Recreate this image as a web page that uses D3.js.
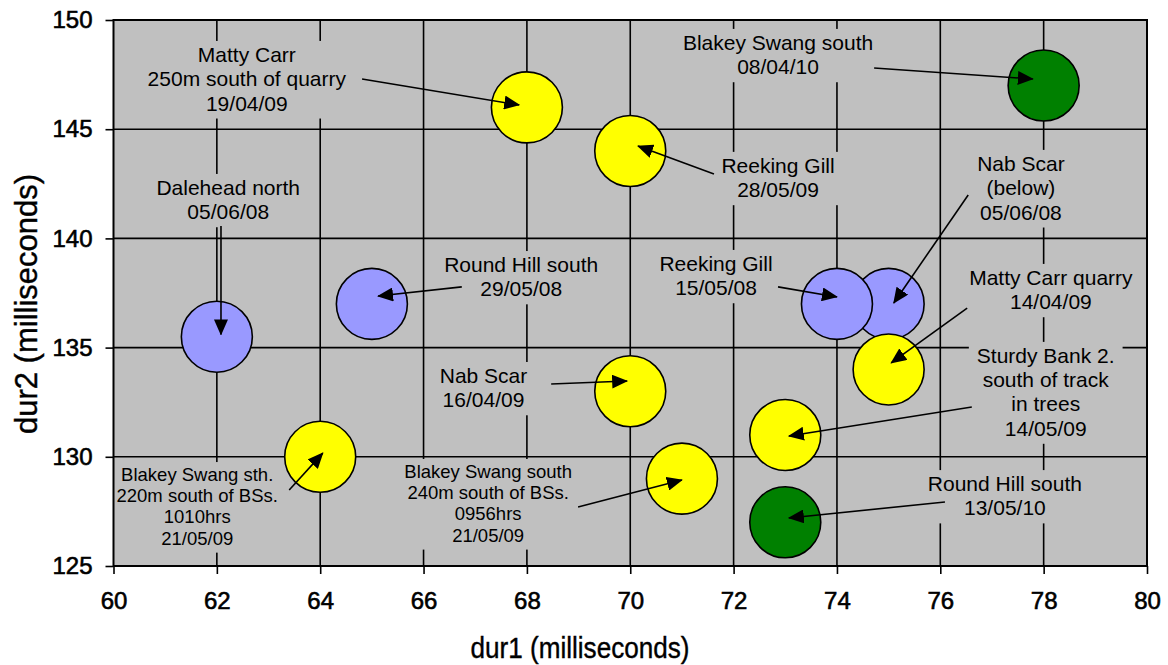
<!DOCTYPE html>
<html><head><meta charset="utf-8">
<script src="https://cdn.jsdelivr.net/npm/d3@7"></script>
<style>
body{margin:0;background:#fff;}
text{font-family:"Liberation Sans",Arial,sans-serif;fill:#000;}
</style>
</head><body>
<svg id="chart" width="1168" height="665"></svg>
<script>
// ---- data ----
const dur1 = [62, 65, 75, 74, 68, 70, 75, 70, 73, 64, 71, 78, 73];
const dur2 = [135.5, 137, 137, 137, 146, 144, 134, 133, 131, 130, 129, 147, 127];
const season = ["2008","2008","2008","2008","2009","2009","2009","2009","2009","2009","2009","2010","2010"];
const labelLines = [
  ["Dalehead north","05/06/08"],
  ["Round Hill south","29/05/08"],
  ["Nab Scar","(below)","05/06/08"],
  ["Reeking Gill","15/05/08"],
  ["Matty Carr","250m south of quarry","19/04/09"],
  ["Reeking Gill","28/05/09"],
  ["Matty Carr quarry","14/04/09"],
  ["Nab Scar","16/04/09"],
  ["Sturdy Bank 2.","south of track","in trees","14/05/09"],
  ["Blakey Swang sth.","220m south of BSs.","1010hrs","21/05/09"],
  ["Blakey Swang south","240m south of BSs.","0956hrs","21/05/09"],
  ["Blakey Swang south","08/04/10"],
  ["Round Hill south","13/05/10"]
];
const xTicks = [60, 62, 64, 66, 68, 70, 72, 74, 76, 78, 80];
const yTicks = [125, 130, 135, 140, 145, 150];
const xTitle = "dur1 (milliseconds)";
const yTitle = "dur2 (milliseconds)";

// ---- annotation layout (in data units) ----
const labelAt = [[62.22,141.99],[67.89,138.46],[77.56,143.09],[71.66,138.51],[62.58,148.08],[72.86,143.0],
  [78.14,137.87],[67.16,133.38],[78.04,134.30],[61.62,128.89],[67.25,129.03],[72.86,148.63],[77.25,128.43]];
const arrowFrom = [[62.08,140.57],[66.74,137.78],[76.54,141.99],[72.86,137.78],[64.81,147.30],[71.62,142.95],
  [76.52,136.81],[68.47,133.33],[76.61,132.28],[63.40,128.48],[68.99,127.70],[74.72,147.80],[76.09,127.93]];
const arrowTo = [[62.08,135.6],[65.12,137.36],[75.10,137.04],[74.00,137.32],[67.85,146.11],[70.15,144.23],
  [75.05,134.30],[69.94,133.47],[73.07,130.95],[64.05,130.17],[71.0,128.94],[77.79,147.30],[73.07,127.20]];
const smallLabel = [false,false,false,false,false,false,false,false,false,true,true,false,false];

const colors = {"2008":"#9999FF","2009":"#FFFF00","2010":"#008000"};

// ---- chart ----
const svg = d3.select("#chart");
const L = 113.5, R = 1147, T = 20, B = 566;
const x = d3.scaleLinear().domain([60, 80]).range([L, R]);
const y = d3.scaleLinear().domain([125, 150]).range([B, T]);

const defs = svg.append("defs");
defs.append("clipPath").attr("id","plotclip").append("rect")
  .attr("x",L).attr("y",T).attr("width",R-L).attr("height",B-T);

svg.append("rect").attr("width",1168).attr("height",665).attr("fill","#fff");
svg.append("rect").attr("x",L).attr("y",T).attr("width",R-L).attr("height",B-T).attr("fill","#C0C0C0");

// gridlines
const grid = svg.append("g").attr("stroke","#000").attr("stroke-width",1.6);
grid.selectAll(".vx").data(xTicks.slice(1,-1)).join("line")
  .attr("x1",d=>x(d)).attr("x2",d=>x(d)).attr("y1",T).attr("y2",B);
grid.selectAll(".hy").data(yTicks.slice(1,-1)).join("line")
  .attr("y1",d=>y(d)).attr("y2",d=>y(d)).attr("x1",L).attr("x2",R);

// label boxes + text
const labG = svg.append("g").attr("clip-path","url(#plotclip)");
labelLines.forEach((lines,i)=>{
  const fs = smallLabel[i] ? 18.5 : 21;
  const lh = smallLabel[i] ? 21.2 : 24.3;
  const g = labG.append("g");
  const t = g.append("text").attr("text-anchor","middle").attr("font-size",fs);
  lines.forEach((ln,j)=>{
    t.append("tspan").attr("x",x(labelAt[i][0])).attr("y",y(labelAt[i][1]) + j*lh).text(ln);
  });
  const bb = t.node().getBBox();
  g.insert("rect","text").attr("x",bb.x-8).attr("y",bb.y-2).attr("width",bb.width+16).attr("height",bb.height+6)
    .attr("fill","#C0C0C0");
});

// circles
const idx = d3.range(dur1.length);
svg.append("g").selectAll("circle").data(idx).join("circle")
  .attr("cx",i=>x(dur1[i])).attr("cy",i=>y(dur2[i])).attr("r",35.5)
  .attr("fill",i=>colors[season[i]]).attr("stroke","#000").attr("stroke-width",1.6);

// arrows
defs.append("marker").attr("id","ah")
  .attr("viewBox","0 0 16 14").attr("refX",15).attr("refY",7)
  .attr("markerWidth",16).attr("markerHeight",14).attr("markerUnits","userSpaceOnUse")
  .attr("orient","auto")
  .append("path").attr("d","M0,0L16,7L0,14Z").attr("fill","#000");
svg.append("g").selectAll("line").data(idx).join("line")
  .attr("x1",i=>x(arrowFrom[i][0])).attr("y1",i=>y(arrowFrom[i][1]))
  .attr("x2",i=>x(arrowTo[i][0])).attr("y2",i=>y(arrowTo[i][1]))
  .attr("stroke","#000").attr("stroke-width",1.6).attr("marker-end","url(#ah)");

// border
svg.append("rect").attr("x",L).attr("y",T).attr("width",R-L).attr("height",B-T)
  .attr("fill","none").attr("stroke","#000").attr("stroke-width",2);

// axes
const xAxis = d3.axisBottom(x).tickValues(xTicks).tickSize(8).tickPadding(18).tickFormat(d3.format("d"));
const yAxis = d3.axisLeft(y).tickValues(yTicks).tickSize(8).tickPadding(13).tickFormat(d3.format("d"));
const gx = svg.append("g").attr("transform",`translate(0,${B})`).call(xAxis);
const gy = svg.append("g").attr("transform",`translate(${L},0)`).call(yAxis);
[gx,gy].forEach(g=>{
  g.select(".domain").remove();
  g.selectAll(".tick line").attr("stroke","#000").attr("stroke-width",1.6);
  g.selectAll(".tick text").attr("font-size",24).attr("font-family","Liberation Sans, Arial, sans-serif")
    .attr("fill","#000").attr("stroke","#000").attr("stroke-width",0.6);
});

// titles
svg.append("text").attr("transform","translate(580,658) scale(0.87,1)")
  .attr("text-anchor","middle").attr("font-size",30).attr("stroke","#000").attr("stroke-width",0.4).text(xTitle);
svg.append("text").attr("transform","translate(37,304) rotate(-90)")
  .attr("text-anchor","middle").attr("font-size",31).attr("stroke","#000").attr("stroke-width",0.4).text(yTitle);
</script>
</body></html>
